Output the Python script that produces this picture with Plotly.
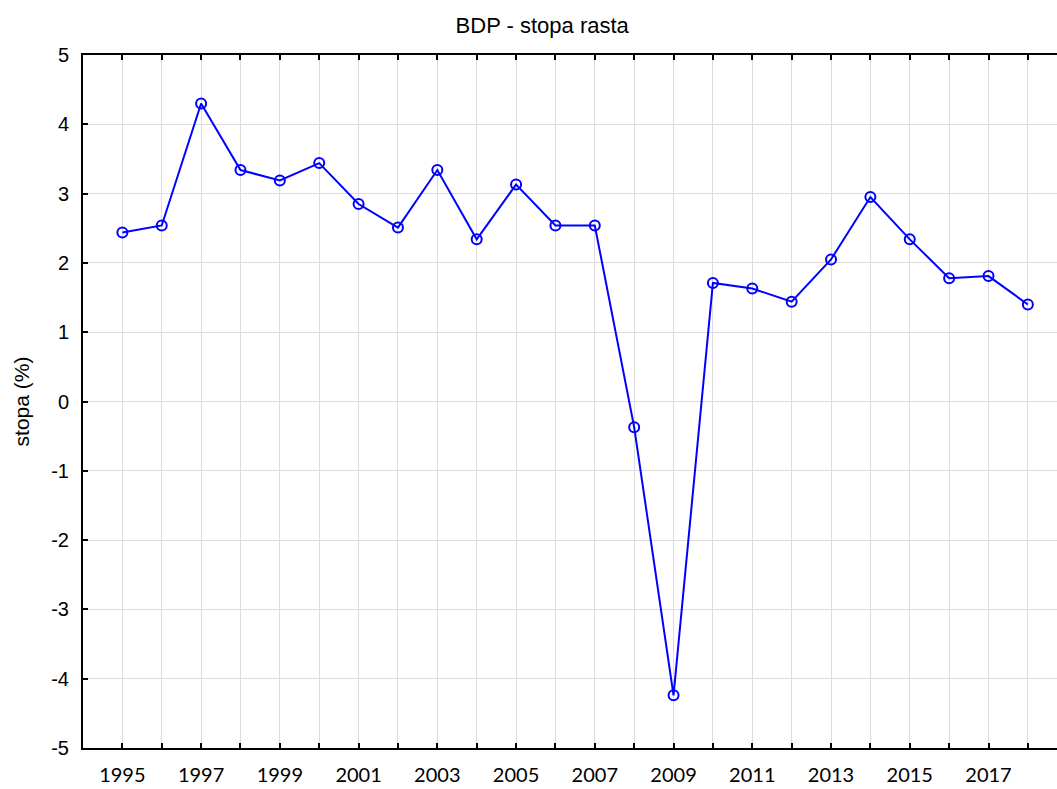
import plotly.graph_objects as go

years = list(range(1995, 2019))
stopa = [2.44, 2.54, 4.30, 3.34, 3.19, 3.44, 2.85, 2.51, 3.34, 2.34, 3.13, 2.54,
         2.54, -0.37, -4.24, 1.71, 1.63, 1.44, 2.05, 2.95, 2.34, 1.78, 1.81, 1.40]
x_labels = [str(y) if y % 2 == 1 else "" for y in years]
y_ticks = list(range(-5, 6))
y_labels = [str(v) for v in y_ticks]

fig = go.Figure()
fig.add_trace(go.Scatter(
    x=years, y=stopa, mode="lines+markers",
    line=dict(color="#0000FF", width=2),
    marker=dict(symbol="circle-open", size=10, color="#0000FF", line=dict(width=2)),
    showlegend=False,
))

fig.update_layout(
    width=1057, height=789,
    margin=dict(l=83, r=0, t=55, b=41, autoexpand=False),
    plot_bgcolor="white", paper_bgcolor="white",
    title=dict(text="BDP - stopa rasta", x=0.513, xanchor="center", y=0.968, yanchor="middle",
               font=dict(family="Liberation Sans", size=22, color="black")),
    font=dict(family="Liberation Sans", color="black"),
)
fig.update_xaxes(
    range=[1994, 2018.74], tickvals=years, ticktext=x_labels, automargin=False,
    ticks="inside", ticklen=5, tickwidth=2, tickcolor="black",
    showline=True, linecolor="black", linewidth=2, mirror="ticks",
    showgrid=True, gridcolor="#dcdcdc", gridwidth=1, zeroline=False,
    tickfont=dict(family="Lato", size=20, color="black"), ticklabelstandoff=8,
)
fig.update_yaxes(
    range=[-5, 5], tickvals=y_ticks, ticktext=y_labels, automargin=False,
    ticks="inside", ticklen=5, tickwidth=2, tickcolor="black",
    showline=True, linecolor="black", linewidth=2,
    showgrid=True, gridcolor="#dcdcdc", gridwidth=1, zeroline=False,
    tickfont=dict(family="Liberation Sans", size=20, color="black"), ticklabelstandoff=8,
    title=dict(text="stopa (%)", font=dict(family="Liberation Sans", size=21, color="black"), standoff=16),
)

# drop the browser's default body margin so the figure sits at the page corner
fig.write_html("out.html", config={"displayModeBar": False},
               post_script="document.body.style.margin='0';")
